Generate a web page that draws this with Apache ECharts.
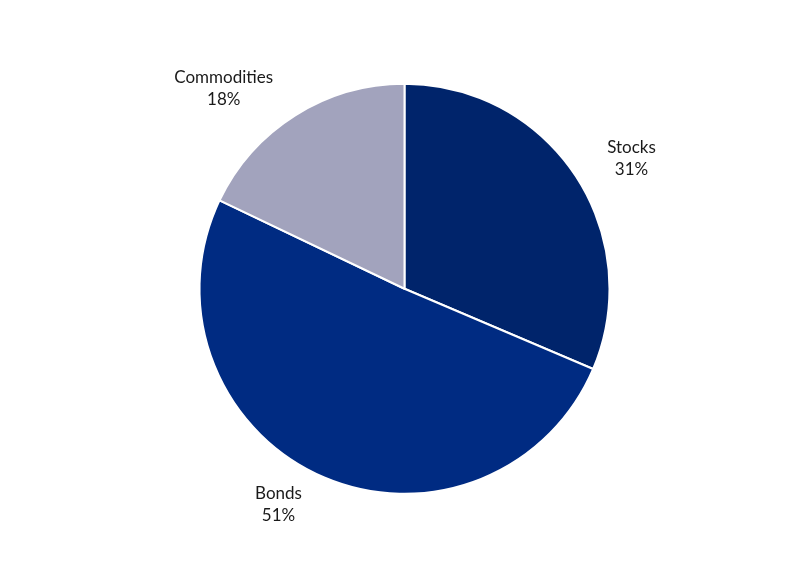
<!DOCTYPE html>
<html>
<head>
<meta charset="utf-8">
<script src="https://cdn.jsdelivr.net/npm/echarts@6/dist/echarts.min.js"></script>
<style>
  html, body { margin: 0; padding: 0; background: #ffffff; }
  #chart { width: 809px; height: 564px; }
</style>
</head>
<body>
<div id="chart"></div>
<script>
// asset mix (slice sizes, labels show them rounded)
var categories = ['Stocks', 'Bonds', 'Commodities'];
var shares = [31.4, 50.7, 17.9];
var colors = ['#00246B', '#002B82', '#A2A3BD'];

var pieData = [];
for (var i = 0; i < categories.length; i++) {
    pieData.push({ name: categories[i], value: shares[i], itemStyle: { color: colors[i] } });
}

var chart = echarts.init(document.getElementById('chart'));
chart.setOption({
    animation: false,
    series: [
        {
            type: 'pie',
            center: ['50%', '51.2%'],
            radius: 205,
            startAngle: 90,
            clockwise: true,
            avoidLabelOverlap: false,
            itemStyle: { borderColor: '#ffffff', borderWidth: 2 },
            label: {
                show: true,
                position: 'outside',
                formatter: function (p) {
                    return p.name + '\n' + Math.round(p.value) + '%';
                },
                fontFamily: 'Lato',
                fontSize: 17,
                lineHeight: 22,
                color: '#1a1a1a'
            },
            labelLine: { show: false, length: 32, length2: 0 },
            // center the two lines of each label on the same anchor
            labelLayout: function (p) {
                return {
                    x: p.labelRect.x + p.labelRect.width / 2,
                    align: 'center'
                };
            },
            emphasis: { disabled: true },
            data: pieData
        }
    ]
});
</script>
</body>
</html>
